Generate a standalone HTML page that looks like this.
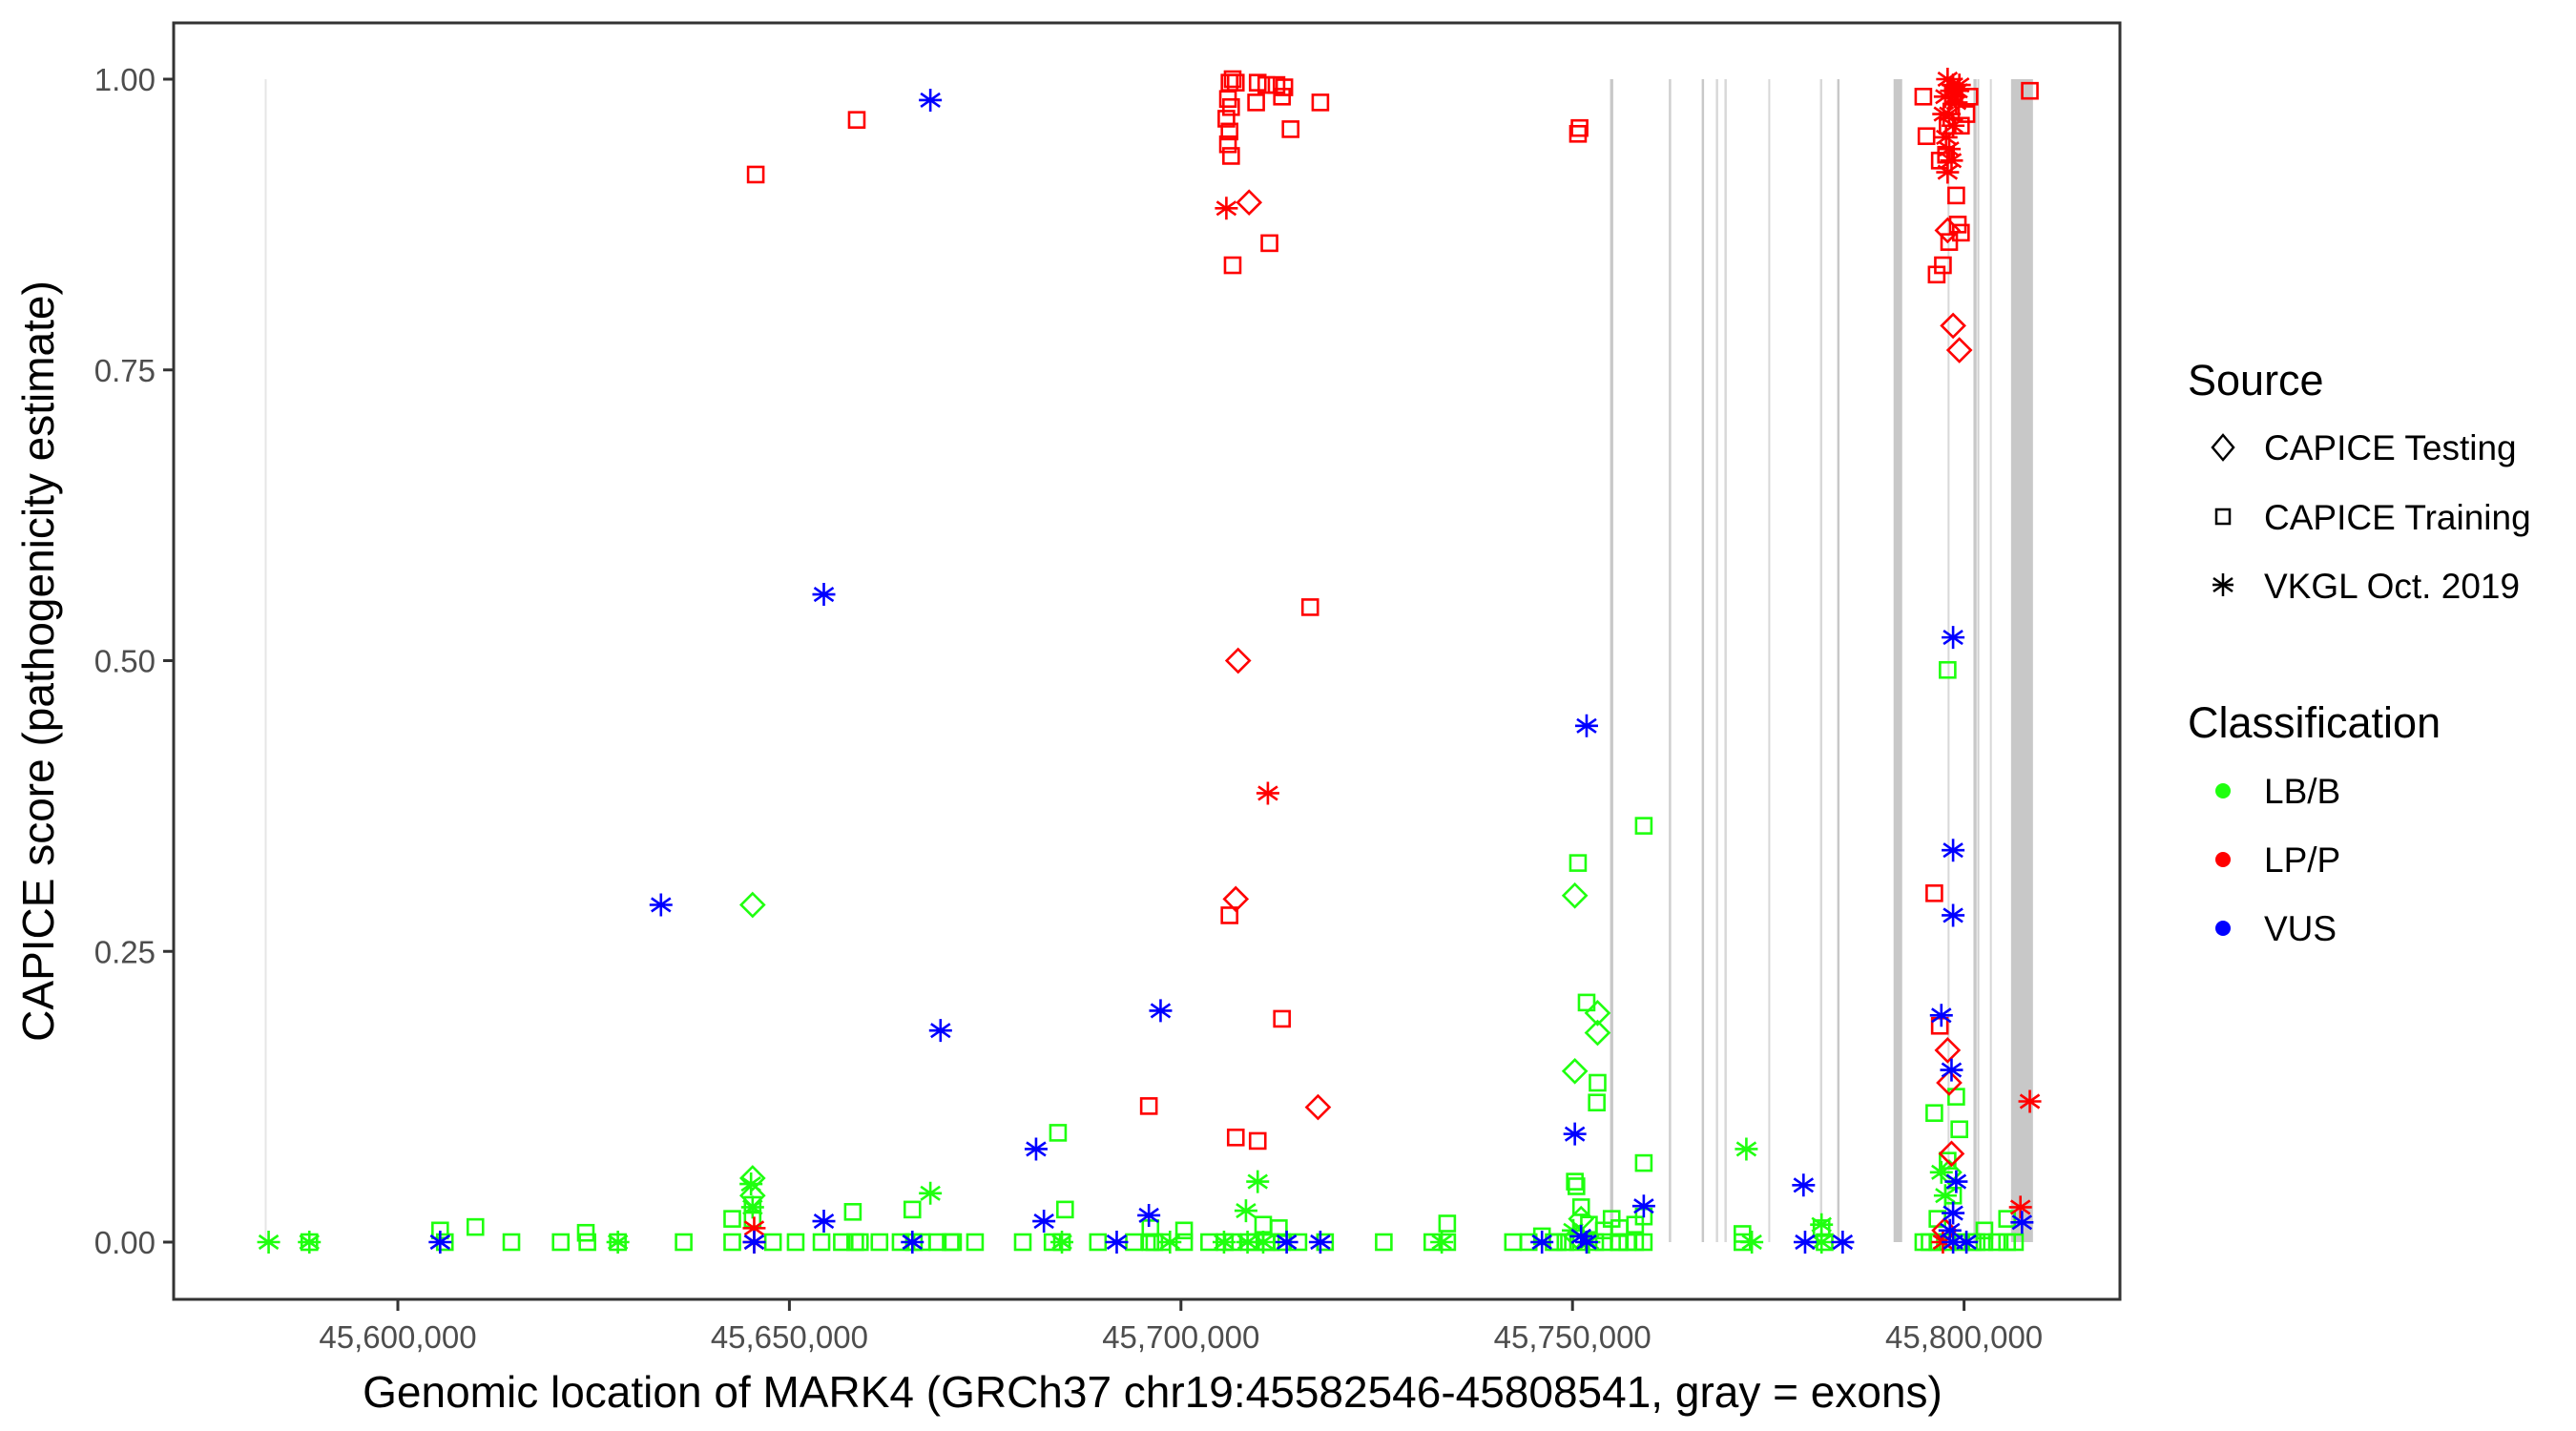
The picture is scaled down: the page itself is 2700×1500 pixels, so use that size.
<!DOCTYPE html>
<html><head><meta charset="utf-8"><style>
html,body{margin:0;padding:0;background:#fff}
svg{display:block;font-family:"Liberation Sans",Arial,sans-serif}
</style></head><body>
<svg id="chart" width="2700" height="1500" viewBox="0 0 2700 1500" xmlns="http://www.w3.org/2000/svg">
<rect x="0" y="0" width="2700" height="1500" fill="#fff"/>
<g id="exons"></g>
<g id="points"></g>
<rect x="182" y="24" width="2040" height="1338" fill="none" stroke="#333" stroke-width="3"/>
<g id="yaxis"></g>
<g id="xaxis"></g>
<text x="1208" y="1475" font-size="46" text-anchor="middle" fill="#000">Genomic location of MARK4 (GRCh37 chr19:45582546-45808541, gray = exons)</text>
<text transform="translate(56,693) rotate(-90)" font-size="46" text-anchor="middle" fill="#000">CAPICE score (pathogenicity estimate)</text>
<g id="legend">
<text x="2293" y="414" font-size="45">Source</text>
<polygon points="2330,456 2341,469 2330,482 2319,469" fill="none" stroke="#000" stroke-width="2.5"/>
<text x="2373" y="482" font-size="37">CAPICE Testing</text>
<rect x="2323" y="534" width="14" height="15" fill="none" stroke="#000" stroke-width="2.5"/>
<text x="2373" y="555" font-size="37">CAPICE Training</text>
<g stroke="#000" stroke-width="2.5"><line x1="2330" y1="601" x2="2330" y2="625"/><line x1="2320" y1="606" x2="2340" y2="620"/><line x1="2320" y1="620" x2="2340" y2="606"/><line x1="2319" y1="613" x2="2341" y2="613"/></g>
<text x="2373" y="627" font-size="37">VKGL Oct. 2019</text>
<text x="2293" y="773" font-size="45">Classification</text>
<circle cx="2330" cy="829" r="8" fill="#1fff0f"/>
<text x="2373" y="842" font-size="37">LB/B</text>
<circle cx="2330" cy="901" r="8" fill="#ff0000"/>
<text x="2373" y="914" font-size="37">LP/P</text>
<circle cx="2330" cy="973" r="8" fill="#0000ff"/>
<text x="2373" y="986" font-size="37">VUS</text>
</g>
</svg>
<script>
// positions in kb (genomic location / 1000)
const xTicks = [45600, 45650, 45700, 45750, 45800];
const xTickLabels = ["45,600,000","45,650,000","45,700,000","45,750,000","45,800,000"];
const yTicks = [0, 0.25, 0.5, 0.75, 1];
const yTickLabels = ["0.00","0.25","0.50","0.75","1.00"];
const exonStart = [45583.0, 45754.8, 45762.3, 45766.5, 45768.3, 45769.4, 45775.0, 45781.6, 45783.8, 45791.0, 45797.9, 45801.2, 45801.7, 45803.3, 45806.0];
const exonEnd   = [45583.1, 45755.2, 45762.6, 45766.8, 45768.6, 45769.7, 45775.2, 45781.9, 45784.1, 45792.1, 45798.0, 45801.6, 45801.8, 45803.5, 45808.8];
const exonShade = ["#e6e6e6","#c8c8c8","#cfcfcf","#c8c8c8","#d8d8d8","#d8d8d8","#d8d8d8","#d8d8d8","#c8c8c8","#c8c8c8","#d8d8d8","#c8c8c8","#d0d0d0","#d8d8d8","#c8c8c8"];

const lbTrainPos = [45759.1,45750.7,45751.8,45753.2,45753.1,45797.9,45796.2,45799.0,45799.4,45759.1,45684.3,45750.3,45750.5,45605.4,45609.9,45624.0,45642.7,45658.1,45665.7,45685.2,45734.0,45759.1,45771.7,45645.3,45645.3,45797.9,45798.6,45751.1,45752.1,45755.0,
45606.0,45614.5,45620.8,45624.2,45628.1,45636.5,45642.7,45647.9,45650.8,45654.1,45656.7,45658.4,45661.5,45664.2,45665.9,45668.9,45670.6,45673.7,45679.8,45683.6,45684.8,45689.4,45694.0,45696.1,45700.4,45705.6,45706.6,45708.7,45710.9,45712.9,45715.0,45718.4,45725.9,45732.1,45734.0,45742.4,45744.4,45747.6,45750.7,45752.9,45755.9,45759.1,45771.7,45782.2,45794.8,45797.9,45801.1,45804.2,45588.7,45659.0,45666.9,45670.9,45696.6,45697.6,45703.6,45709.5,45711.5,45748.1,45749.1,45754.0,45756.0,45757.0,45758.0,45795.6,45796.6,45799.6,45801.6,45802.6,45805.5,45806.5,
45696.1,45700.4,45710.5,45712.5,45746.1,45754.0,45756.0,45758.0,45781.8,45796.6,45802.6,45805.5];
const lbTrainScore = [0.358,0.326,0.206,0.137,0.12,0.492,0.111,0.125,0.097,0.068,0.094,0.052,0.048,0.01,0.013,0.008,0.02,0.026,0.028,0.028,0.016,0.022,0.007,0.032,0.02,0.07,0.04,0.03,0.015,0.02,
0,0,0,0,0,0,0,0,0,0,0,0,0,0,0,0,0,0,0,0,0,0,0,0,0,0,0,0,0,0,0,0,0,0,0,0,0,0,0,0,0,0,0,0,0,0,0,0,0,0,0,0,0,0,0,0,0,0,0,0,0,0,0,0,0,0,0,0,0,0,
0.012,0.01,0.015,0.012,0.005,0.01,0.012,0.015,0.012,0.02,0.01,0.02];
const lbTestPos = [45645.3,45645.3,45645.3,45750.3,45750.3,45753.2,45753.2,45750.5,45798.1,45751.1];
const lbTestScore = [0.29,0.055,0.04,0.298,0.147,0.197,0.18,0.005,0.06,0.02];
const lbVkglPos = [45772.2,45709.8,45668.0,45708.3,45781.8,45583.5,45588.7,45628.1,45645.1,45645.3,45684.8,45698.6,45708.5,45710.5,45733.3,45750.1,45752.1,45772.9,45781.8,45797.1,45797.6,45705.5];
const lbVkglScore = [0.08,0.052,0.042,0.027,0.015,0,0,0,0.05,0.03,0,0,0,0,0,0.01,0,0,0,0.06,0.04,0];

const lpTrainPos = [45645.7,45658.6,45706.2,45706.6,45707.0,45706.0,45706.4,45705.8,45706.2,45706.0,45706.4,45709.8,45710.9,45712.2,45713.2,45709.6,45712.9,45714.0,45717.8,45706.6,45711.3,45716.5,45706.2,45712.9,45695.9,45707.0,45709.8,45750.7,45750.9,45808.4,45795.2,45796.5,45797.3,45798.1,45799.0,45799.2,45799.6,45796.9,45797.7,45800.3,45800.7,45798.6,45796.2,45796.9,45794.8,45797.9,45799.6];
const lpTrainScore = [0.918,0.965,0.997,1.0,0.997,0.983,0.976,0.966,0.955,0.944,0.934,0.997,0.995,0.995,0.993,0.98,0.985,0.957,0.98,0.84,0.859,0.546,0.281,0.192,0.117,0.09,0.087,0.953,0.958,0.99,0.951,0.832,0.84,0.86,0.9,0.875,0.868,0.93,0.935,0.97,0.985,0.985,0.3,0.186,0.985,0.96,0.96];
const lpTestPos = [45708.7,45707.3,45707.0,45717.5,45798.6,45799.4,45797.9,45798.1,45798.4,45797.5,45797.9];
const lpTestScore = [0.894,0.5,0.295,0.116,0.788,0.767,0.165,0.137,0.076,0.01,0.87];
const lpVkglPos = [45705.8,45711.1,45808.4,45807.2,45645.5,45797.3,45645.5,45797.9,45798.4,45798.6,45799.0,45798.1,45798.6,45797.7,45798.1,45798.4,45797.9,45798.8,45799.2,45797.6,45799.4,45797.4];
const lpVkglScore = [0.889,0.386,0.121,0.03,0.012,0,0,1.0,0.99,0.995,0.98,0.97,0.96,0.95,0.94,0.93,0.92,0.985,0.99,0.985,0.995,0.97];

const vusVkglPos = [45668.0,45654.4,45633.6,45669.3,45697.4,45681.5,45751.8,45750.3,45798.6,45798.6,45798.6,45797.1,45798.4,45779.5,45759.1,45695.9,45682.5,45654.4,45799.0,45798.6,45807.4,45605.4,45645.5,45665.7,45691.8,45713.5,45717.8,45746.1,45779.7,45784.5,45800.3,45751.8,45798.6,45798.2,45751.1];
const vusVkglScore = [0.982,0.557,0.29,0.182,0.199,0.08,0.444,0.093,0.52,0.337,0.281,0.195,0.148,0.049,0.031,0.023,0.018,0.018,0.052,0.025,0.017,0,0,0,0,0,0,0,0,0,0,0,0,0.01,0.005];

const X0 = 417, XPER = 410.4/50; // px per kb
function xScale(kb){ return X0 + (kb - 45600) * XPER; }
function yScale(s){ return 1302 - s * 1219; }
const NS = "http://www.w3.org/2000/svg";
function mk(tag, attrs, parent){ const e = document.createElementNS(NS, tag); for (const k in attrs) e.setAttribute(k, attrs[k]); parent.appendChild(e); return e; }

const exG = document.getElementById("exons");
for (let i = 0; i < exonStart.length; i++) {
  const x1 = xScale(exonStart[i]), x2 = xScale(exonEnd[i]);
  const r = mk("rect", {x: x1, y: yScale(1), width: Math.max(2, x2 - x1), height: yScale(0) - yScale(1), fill: exonShade[i]}, exG);
  
  
}

const yG = document.getElementById("yaxis");
for (let i = 0; i < yTicks.length; i++) {
  const y = yScale(yTicks[i]);
  const t = mk("line", {x1: 171, x2: 182, y1: y, y2: y, stroke: "#333", "stroke-width": 3}, yG);
  
  
  const l = mk("text", {x: 163, y: y + 12, "font-size": 33, "text-anchor": "end", fill: "#4d4d4d"}, yG);
  l.textContent = yTickLabels[i];
  
  
}
const xG = document.getElementById("xaxis");
for (let i = 0; i < xTicks.length; i++) {
  const x = xScale(xTicks[i]);
  const t = mk("line", {x1: x, x2: x, y1: 1362, y2: 1374, stroke: "#333", "stroke-width": 3}, xG);
  
  
  const l = mk("text", {x: x, y: 1413, "font-size": 33, "text-anchor": "middle", fill: "#4d4d4d"}, xG);
  l.textContent = xTickLabels[i];
  
  
}

const pG = document.getElementById("points");
function drawSet(pos, score, shape, color, name) {
  for (let i = 0; i < pos.length; i++) {
    const cx = xScale(pos[i]), cy = yScale(score[i]);
    let e;
    if (shape === "square") {
      e = mk("rect", {x: cx - 8, y: cy - 8, width: 16, height: 16, fill: "none", stroke: color, "stroke-width": 2.6}, pG);
    } else if (shape === "diamond") {
      e = mk("polygon", {points: `${cx},${cy-12} ${cx+12},${cy} ${cx},${cy+12} ${cx-12},${cy}`, fill: "none", stroke: color, "stroke-width": 2.6}, pG);
    } else {
      e = mk("path", {d: `M${cx},${cy-12}V${cy+12}M${cx-10},${cy-7}L${cx+10},${cy+7}M${cx-10},${cy+7}L${cx+10},${cy-7}M${cx-12},${cy}H${cx+12}`, fill: "none", stroke: color, "stroke-width": 2.6}, pG);
    }
    
    
  }
}
const GREEN = "#1fff0f", RED = "#ff0000", BLUE = "#0000ff";
drawSet(lbTrainPos, lbTrainScore, "square", GREEN, "point-lbb-training");
drawSet(lbTestPos, lbTestScore, "diamond", GREEN, "point-lbb-testing");
drawSet(lbVkglPos, lbVkglScore, "star", GREEN, "point-lbb-vkgl");
drawSet(lpTrainPos, lpTrainScore, "square", RED, "point-lpp-training");
drawSet(lpTestPos, lpTestScore, "diamond", RED, "point-lpp-testing");
drawSet(lpVkglPos, lpVkglScore, "star", RED, "point-lpp-vkgl");
drawSet(vusVkglPos, vusVkglScore, "star", BLUE, "point-vus-vkgl");
</script>
</body></html>
